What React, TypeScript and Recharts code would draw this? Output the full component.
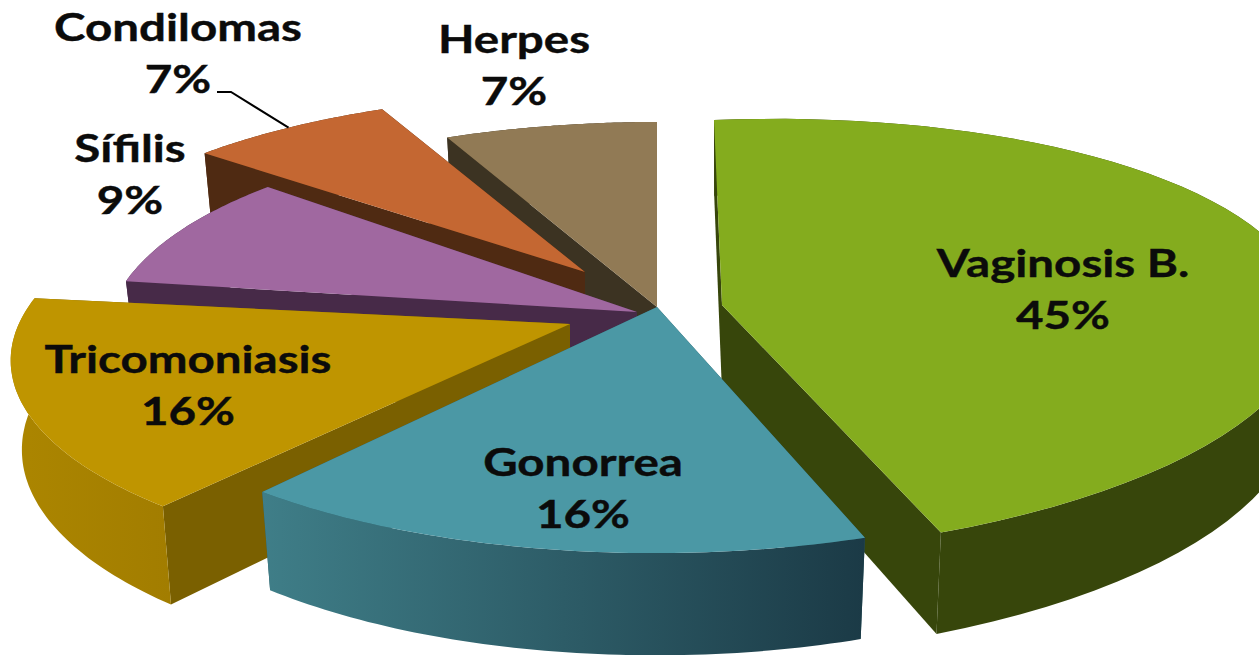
import { Pie, PieChart } from 'recharts';

// paint order is back to front, so the pie starts where Vaginosis B. ends and runs counter clockwise
const names = ['Vaginosis B.', 'Herpes', 'Condilomas', 'Sífilis', 'Tricomoniasis', 'Gonorrea'];
const shares = [45, 7, 7, 9, 16, 16];
const data = names.map((name, i) => ({ name, value: shares[i] }));

const CX = 657;
const CY = 307;
const RADIUS = 530;
const TILT = 212.6 / 530;
const PERSPECTIVE = 0.149;
const DEPTH = 87;
const SHRINK = 0.98;

// each slice is pulled out and slightly warped: dx, dy, sx, sy, skewX, skewY
const warps: Record<string, number[]> = {
  'Vaginosis B.': [65, -2, 1.094, 1, 0.043, -0.042],
  Herpes: [0, 0, 1.055, 1, 0, 0],
  Condilomas: [-72, -35, 1.02, 0.96, 0, 0],
  'Sífilis': [-20, 5, 0.99, 0.98, 0, 0.01],
  Tricomoniasis: [-87, 17, 1.04, 0.985, -0.055, 0],
  Gonorrea: [0, 0, 1.05, 0.985, 0.032, -0.007],
};

const looks: Record<string, { top: string; cut: string; rim: [string, string] }> = {
  'Vaginosis B.': { top: '#84AC1E', cut: '#37460B', rim: ['#37460B', '#37460B'] },
  Herpes: { top: '#917A55', cut: '#3C3322', rim: ['#3C3322', '#3C3322'] },
  Condilomas: { top: '#C46732', cut: '#4F2A12', rim: ['#4F2A12', '#4F2A12'] },
  'Sífilis': { top: '#A068A0', cut: '#472A48', rim: ['#472A48', '#472A48'] },
  Tricomoniasis: { top: '#BF9500', cut: '#7A6000', rim: ['#AC8600', '#A27D00'] },
  Gonorrea: { top: '#4B98A5', cut: '#2C5A62', rim: ['#3F7E88', '#1B3A46'] },
};

const labelSpots: Record<string, [number, number]> = {
  'Vaginosis B.': [1063, 277],
  Herpes: [514, 53],
  Condilomas: [178, 41],
  'Sífilis': [130, 162],
  Tricomoniasis: [188, 373],
  Gonorrea: [583, 476],
};

const RAD = Math.PI / 180;

function project(angle: number, frac: number, low: boolean, warp: number[]) {
  const [dx, dy, sx, sy, skewX, skewY] = warp;
  const x = Math.cos(angle * RAD) * frac;
  const y = -Math.sin(angle * RAD) * frac;
  const s = 1 / (1 - PERSPECTIVE * y);
  const px = x * RADIUS * s;
  const py = y * RADIUS * TILT * s;
  const shrink = low ? SHRINK : 1;
  return [
    CX + dx + (px * sx + py * skewX) * shrink,
    CY + dy + py * sy + px * skewY + (low ? DEPTH * s : 0),
  ];
}

const toPath = (pts: number[][]) =>
  'M' + pts.map((p) => p[0].toFixed(1) + ' ' + p[1].toFixed(1)).join('L') + 'Z';

function Slice3D(props: any) {
  const { name, startAngle, endAngle } = props;
  const warp = warps[name];
  const look = looks[name];
  const steps = 60;
  const angles: number[] = [];
  for (let i = 0; i <= steps; i++) angles.push(startAngle + ((endAngle - startAngle) * i) / steps);
  const topArc = angles.map((a) => project(a, 1, false, warp));
  const lowArc = angles.map((a) => project(a, 1, true, warp));
  const tip = project(0, 0, false, warp);
  const lowTip = project(0, 0, true, warp);
  const id = 'rim' + names.indexOf(name);
  return (
    <g>
      <defs>
        <linearGradient id={id} x1="0" y1="0" x2="1" y2="0">
          <stop offset="0" stopColor={look.rim[0]} />
          <stop offset="1" stopColor={look.rim[1]} />
        </linearGradient>
      </defs>
      <path d={toPath([tip, topArc[0], lowArc[0], lowTip])} fill={look.cut} />
      <path d={toPath([tip, topArc[steps], lowArc[steps], lowTip])} fill={look.cut} />
      <path d={toPath([...topArc, ...[...lowArc].reverse()])} fill={`url(#${id})`} />
      <path d={toPath([tip, ...topArc])} fill={look.top} />
    </g>
  );
}

function SliceLabel(props: any) {
  const { name, value, midAngle } = props;
  const [x, y] = labelSpots[name];
  const rim = project(midAngle, 1, false, warps[name]);
  return (
    <g>
      {name === 'Condilomas' && (
        <polyline
          points={`${rim[0]},${rim[1]} ${x + 53},${y + 51} ${x + 39},${y + 51}`}
          fill="none"
          stroke="#000"
          strokeWidth={2}
        />
      )}
      {/* the reference text is stretched sideways */}
      <text
        transform={`translate(${x} 0) scale(1.25 1)`}
        textAnchor="middle"
        fontFamily="Lato"
        fontWeight={700}
        fontSize={38}
        fill="#0b0b0b"
        stroke="#0b0b0b"
        strokeWidth={0.4}
      >
        <tspan x={0} y={y}>{name}</tspan>
        <tspan x={0} y={y + 52}>{value}%</tspan>
      </text>
    </g>
  );
}

export default function App() {
  return (
    <div style={{ width: 1259, height: 655, background: '#fff', overflow: 'hidden' }}>
      <style>{'body { margin: 0; }'}</style>
      <PieChart width={1259} height={655} margin={{ top: 0, right: 0, bottom: 0, left: 0 }}>
        <Pie
          data={data}
          dataKey="value"
          nameKey="name"
          cx={CX}
          cy={CY}
          outerRadius={RADIUS}
          startAngle={-72}
          endAngle={288}
          stroke="none"
          shape={Slice3D}
          label={SliceLabel}
          labelLine={false}
          isAnimationActive={false}
        />
      </PieChart>
    </div>
  );
}
